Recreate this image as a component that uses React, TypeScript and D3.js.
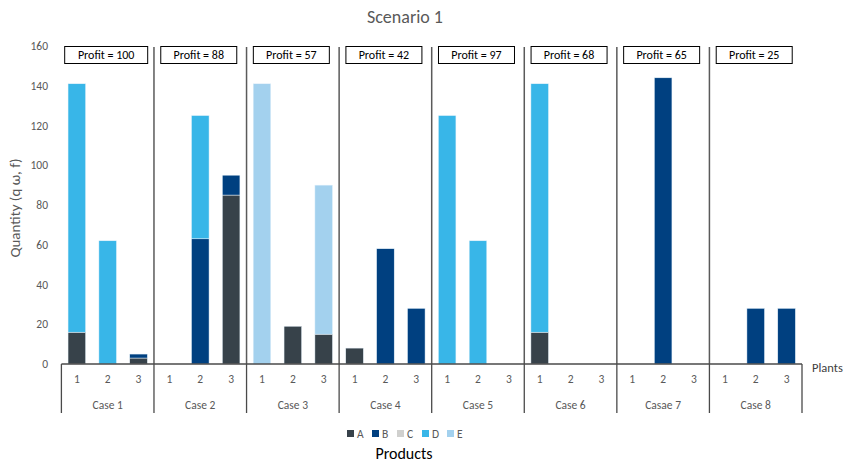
import React from "react";
import * as d3 from "d3";

const cases = ["Case 1", "Case 2", "Case 3", "Case 4", "Case 5", "Case 6", "Casae 7", "Case 8"];
const plants = ["1", "2", "3"];
const products = ["A", "B", "C", "D", "E"];
const profits = [100, 88, 57, 42, 97, 68, 65, 25];
const yTicks = [0, 20, 40, 60, 80, 100, 120, 140, 160];

// values per product, ordered case by case, plant 1..3
const seriesA = [16, 0, 3, 0, 0, 85, 0, 19, 15, 8, 0, 0, 0, 0, 0, 16, 0, 0, 0, 0, 0, 0, 0, 0];
const seriesB = [0, 0, 2, 0, 63, 10, 0, 0, 0, 0, 58, 28, 0, 0, 0, 0, 0, 0, 0, 144, 0, 0, 28, 28];
const seriesC = [0, 0, 0, 0, 0, 0, 0, 0, 0, 0, 0, 0, 0, 0, 0, 0, 0, 0, 0, 0, 0, 0, 0, 0];
const seriesD = [125, 62, 0, 0, 62, 0, 0, 0, 0, 0, 0, 0, 125, 62, 0, 125, 0, 0, 0, 0, 0, 0, 0, 0];
const seriesE = [0, 0, 0, 0, 0, 0, 141, 0, 75, 0, 0, 0, 0, 0, 0, 0, 0, 0, 0, 0, 0, 0, 0, 0];

const colors: Record<string, string> = {
  A: "#37424A",
  B: "#004080",
  C: "#D0D0CE",
  D: "#38B6E8",
  E: "#A3D1EE",
};

const FONT = "Carlito, Calibri, Lato, 'Liberation Sans', sans-serif";

export default function App() {
  const W = 848, H = 462;
  const left = 61.4, right = 802, top = 46, bottom = 364;

  const x = d3.scaleBand<string>().domain(cases).range([left, right]).paddingInner(0).paddingOuter(0);
  const xi = d3.scaleBand<string>().domain(plants).range([0, x.bandwidth()]).paddingInner(0.43).paddingOuter(0.215);
  const y = d3.scaleLinear().domain([0, 160]).range([bottom, top]);

  const rows = cases.flatMap((c, ci) =>
    plants.map((p, pi) => {
      const i = ci * 3 + pi;
      return { c, p, A: seriesA[i], B: seriesB[i], C: seriesC[i], D: seriesD[i], E: seriesE[i] };
    })
  );
  const stack = d3.stack<any>().keys(products)(rows);

  const legendStart = 347;
  const legendStep = 25;

  return (
    <svg width={W} height={H} style={{ position: "absolute", left: 0, top: 0, fontFamily: FONT }}>
      <rect width={W} height={H} fill="#fff" />
      <text x={405} y={23} textAnchor="middle" fontSize={18} fill="#595959">Scenario 1</text>

      {/* y axis */}
      {yTicks.map((t) => (
        <text key={t} x={48} y={y(t)} dy="0.35em" textAnchor="end" fontSize={11.5} fill="#595959">{t}</text>
      ))}
      <text transform={`translate(20,${(top + bottom) / 2 + 3}) rotate(-90)`} textAnchor="middle" fontSize={15} fill="#595959">
        Quantity (q ω, f)
      </text>

      {/* separators in plot */}
      {cases.slice(1).map((c) => (
        <line key={c} x1={x(c)!} x2={x(c)!} y1={top + 1} y2={bottom} stroke="#5a5a5a" strokeWidth={1.5} />
      ))}

      {/* bars */}
      {stack.map((s) => (
        <g key={s.key}>
          {s.map((d: any, i: number) => {
            const v = d[1] - d[0];
            if (v <= 0) return null;
            const r = rows[i];
            return (
              <rect
                key={i}
                x={x(r.c)! + xi(r.p)!}
                y={y(d[1])}
                width={xi.bandwidth()}
                height={y(d[0]) - y(d[1])}
                fill={colors[s.key]}
                stroke="#e8f3fb"
                strokeWidth={0.5}
              />
            );
          })}
        </g>
      ))}

      {/* profit boxes */}
      {cases.map((c, i) => {
        const label = `Profit = ${profits[i]}`;
        const w = profits[i] >= 100 ? 83 : 76;
        const cx = x(c)! + x.bandwidth() / 2 - 1.5;
        return (
          <g key={c}>
            <rect x={cx - w / 2} y={46.5} width={w} height={17} fill="#fff" stroke="#000" strokeWidth={1} />
            <text x={cx} y={55} dy="0.35em" textAnchor="middle" fontSize={12} fill="#000">{label}</text>
          </g>
        );
      })}

      {/* x axis */}
      <line x1={left} x2={right} y1={bottom} y2={bottom} stroke="#4a4a4a" strokeWidth={1.3} />
      {[...cases.map((c) => x(c)!), right].map((xx, i) => (
        <line key={i} x1={xx} x2={xx} y1={bottom} y2={413} stroke="#4a4a4a" strokeWidth={1.3} />
      ))}
      {cases.map((c) => (
        <g key={c}>
          {plants.map((p) => (
            <text key={p} x={x(c)! + xi(p)! + xi.bandwidth() / 2} y={379} dy="0.35em" textAnchor="middle" fontSize={11.5} fill="#595959">{p}</text>
          ))}
          <text x={x(c)! + x.bandwidth() / 2} y={405} dy="0.35em" textAnchor="middle" fontSize={11.5} fill="#595959">{c}</text>
        </g>
      ))}
      <text x={812} y={368} dy="0.35em" fontSize={12.5} fill="#404040">Plants</text>

      {/* legend */}
      {products.map((p, i) => (
        <g key={p}>
          <rect x={legendStart + i * legendStep} y={430} width={7} height={7} fill={colors[p]} />
          <text x={legendStart + i * legendStep + 10} y={434} dy="0.35em" fontSize={11.5} fill="#595959">{p}</text>
        </g>
      ))}
      <text x={404} y={453} dy="0.35em" textAnchor="middle" fontSize={16} fill="#000">Products</text>
    </svg>
  );
}
